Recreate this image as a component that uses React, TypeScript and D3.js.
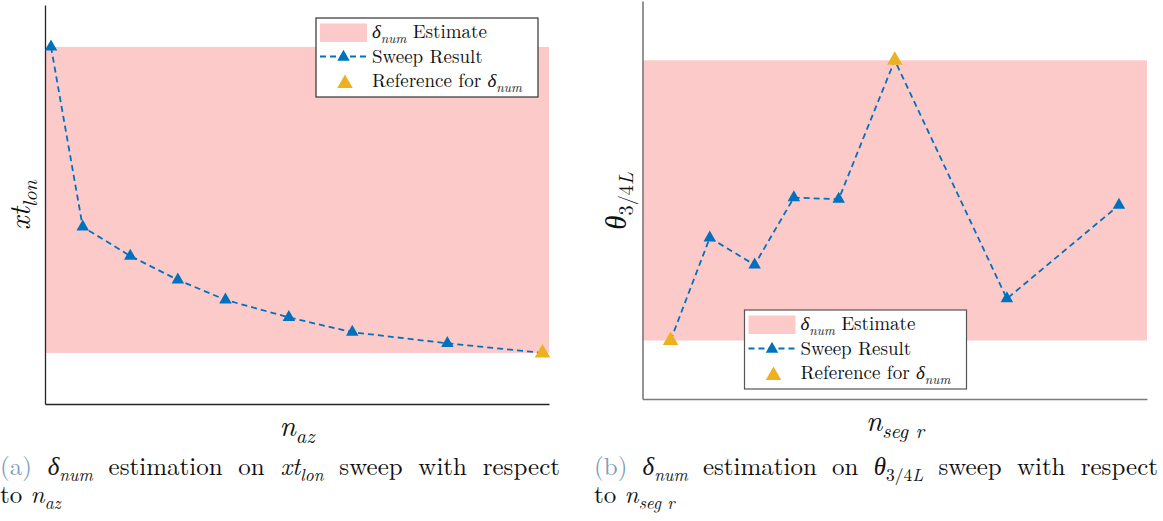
import React, { useEffect, useRef } from 'react';
import * as d3 from 'd3';

// Sweep (a): longitudinal xt against azimuthal resolution
const nAz = [4, 6, 9, 12, 15, 19, 23, 29, 35];
const xtLon = [0.895, 0.444, 0.371, 0.311, 0.261, 0.217, 0.18, 0.152, 0.128];
const xtLonIsReference = [false, false, false, false, false, false, false, false, true];

// Sweep (b): theta at 3/4 L against radial segments
const nSegR = [1, 2.4, 4, 5.4, 7, 9, 13, 17];
const theta34L = [0.147, 0.405, 0.337, 0.506, 0.502, 0.851, 0.252, 0.487];
const thetaIsReference = [true, false, false, false, false, true, false, false];

const BLUE = '#0072BD';
const GOLD = '#EDB120';
const BAND = '#FDCACA';
const SERIF = 'Latin Modern Roman';
const GREEK = "'Liberation Serif'";

type Seg = { t: string; it?: boolean; sub?: boolean; gr?: boolean; color?: string };

const deltaNum: Seg[] = [{ t: 'δ', it: true, gr: true }, { t: 'num', it: true, sub: true }];

const legendRows: Seg[][] = [
  [...deltaNum, { t: ' Estimate' }],
  [{ t: 'Sweep Result' }],
  [{ t: 'Reference for ' }, ...deltaNum],
];

const captionA: Seg[][] = [
  [{ t: '(a)', color: '#7f9dbd' }],
  deltaNum,
  [{ t: 'estimation' }],
  [{ t: 'on' }],
  [{ t: 'xt', it: true }, { t: 'lon', it: true, sub: true }],
  [{ t: 'sweep' }],
  [{ t: 'with' }],
  [{ t: 'respect' }],
];
const captionA2: Seg[] = [{ t: 'to ' }, { t: 'n', it: true }, { t: 'az', it: true, sub: true }];

const captionB: Seg[][] = [
  [{ t: '(b)', color: '#7f9dbd' }],
  deltaNum,
  [{ t: 'estimation' }],
  [{ t: 'on' }],
  [{ t: 'θ', it: true, gr: true }, { t: '3/4', sub: true }, { t: 'L', it: true, sub: true }],
  [{ t: 'sweep' }],
  [{ t: 'with' }],
  [{ t: 'respect' }],
];
const captionB2: Seg[] = [{ t: 'to ' }, { t: 'n', it: true }, { t: 'seg r', it: true, sub: true }];

type Sel = d3.Selection<any, unknown, null, undefined>;

function rich(sel: Sel, segs: Seg[], size: number) {
  let shift = 0;
  segs.forEach((s) => {
    const target = s.sub ? size * 0.25 : 0;
    const ts = sel
      .append('tspan')
      .text(s.t)
      .attr('font-size', s.sub ? size * 0.7 : size)
      .attr('font-style', s.it ? 'italic' : 'normal');
    if (s.gr) ts.style('font-family', GREEK);
    if (target !== shift) {
      ts.attr('dy', target - shift);
      shift = target;
    }
    if (s.color) ts.attr('fill', s.color);
  });
}

function textAt(g: Sel, segs: Seg[], x: number, y: number, size: number, anchor = 'start') {
  const t = g
    .append('text')
    .attr('x', x)
    .attr('y', y)
    .attr('font-family', SERIF)
    .attr('font-size', size)
    .attr('text-anchor', anchor)
    .attr('fill', '#111')
    .style('white-space', 'pre');
  rich(t, segs, size);
  return t;
}

// Lay out words so the line fills [x0, x1], with the slack put between words
function justified(g: Sel, words: Seg[][], x0: number, x1: number, y: number, size: number) {
  const nodes = words.map((w) => textAt(g, w, 0, y, size));
  const widths = nodes.map((n) => (n.node() as SVGTextElement).getComputedTextLength());
  const gap = (x1 - x0 - d3.sum(widths)) / (nodes.length - 1);
  let cx = x0;
  nodes.forEach((n, i) => {
    n.attr('x', cx);
    cx += widths[i] + gap;
  });
}

function triangle(w: number, h: number) {
  return `M0,${(-2 * h) / 3}L${w / 2},${h / 3}L${-w / 2},${h / 3}Z`;
}

type Panel = {
  xs: number[];
  ys: number[];
  isRef: boolean[];
  xDomain: [number, number];
  left: number;
  right: number;
  top: number;
  bottom: number;
  axisColor: string;
  axisWidth: number;
  legendX: number;
  legendY: number;
  legendStroke: string;
  yLabel: Seg[];
  yLabelX: number;
  yLabelY: number;
  xLabel: Seg[];
  xLabelX: number;
  xLabelY: number;
};

function drawLegend(g: Sel, p: Panel) {
  const x0 = p.legendX;
  const y0 = p.legendY;
  g.append('rect')
    .attr('x', x0)
    .attr('y', y0)
    .attr('width', 222)
    .attr('height', 79)
    .attr('fill', '#fff')
    .attr('stroke', p.legendStroke)
    .attr('stroke-width', 1.2);
  g.append('rect').attr('x', x0 + 4).attr('y', y0 + 5.5).attr('width', 47).attr('height', 18.5).attr('fill', BAND);
  g.append('line')
    .attr('x1', x0 + 4)
    .attr('x2', x0 + 51)
    .attr('y1', y0 + 38.5)
    .attr('y2', y0 + 38.5)
    .attr('stroke', BLUE)
    .attr('stroke-width', 1.8)
    .attr('stroke-dasharray', '6,4');
  g.append('path').attr('d', triangle(12.5, 11)).attr('transform', `translate(${x0 + 27.5},${y0 + 39})`).attr('fill', BLUE);
  g.append('path').attr('d', triangle(15.5, 13.5)).attr('transform', `translate(${x0 + 29},${y0 + 65.5})`).attr('fill', GOLD);
  legendRows.forEach((row, i) => textAt(g, row, x0 + 56, y0 + 20 + i * 24.5, 19));
}

function drawPanel(g: Sel, p: Panel) {
  const x = d3.scaleLinear().domain(p.xDomain).range([p.left, p.right]);
  const y = d3.scaleLinear().domain([0, 1]).range([p.bottom, p.top]);
  const [lo, hi] = d3.extent(p.ys) as [number, number];

  // estimate band spans the sweep's range
  g.append('rect')
    .attr('x', p.left)
    .attr('width', p.right - p.left)
    .attr('y', y(hi))
    .attr('height', y(lo) - y(hi))
    .attr('fill', BAND);

  const xAxis = g
    .append('g')
    .attr('transform', `translate(0,${p.bottom})`)
    .call(d3.axisBottom(x).tickValues([]).tickSizeOuter(0));
  const yAxis = g
    .append('g')
    .attr('transform', `translate(${p.left},0)`)
    .call(d3.axisLeft(y).tickValues([]).tickSizeOuter(0));
  [xAxis, yAxis].forEach((a) =>
    a.select('.domain').attr('stroke', p.axisColor).attr('stroke-width', p.axisWidth)
  );

  const pts = p.xs.map((v, i) => [x(v), y(p.ys[i])] as [number, number]);
  g.append('path')
    .attr('d', d3.line()(pts))
    .attr('fill', 'none')
    .attr('stroke', BLUE)
    .attr('stroke-width', 1.8)
    .attr('stroke-dasharray', '6,4');
  g.selectAll(null)
    .data(pts)
    .enter()
    .append('path')
    .attr('d', triangle(12.5, 11))
    .attr('transform', (d) => `translate(${d[0]},${d[1]})`)
    .attr('fill', BLUE);
  g.selectAll(null)
    .data(pts.filter((_, i) => p.isRef[i]))
    .enter()
    .append('path')
    .attr('d', triangle(15.5, 13.5))
    .attr('transform', (d) => `translate(${d[0]},${d[1]})`)
    .attr('fill', GOLD);

  drawLegend(g, p);

  textAt(g, p.yLabel, 0, 0, 29, 'middle').attr(
    'transform',
    `translate(${p.yLabelX},${p.yLabelY}) rotate(-90)`
  );
  textAt(g, p.xLabel, p.xLabelX, p.xLabelY, 29, 'middle');
}

const panelA: Panel = {
  xs: nAz,
  ys: xtLon,
  isRef: xtLonIsReference,
  xDomain: [3.62, 35.41],
  left: 45,
  right: 549,
  top: 5,
  bottom: 404,
  axisColor: '#262626',
  axisWidth: 1.3,
  legendX: 316,
  legendY: 18,
  legendStroke: '#333',
  yLabel: [{ t: 'xt', it: true }, { t: 'lon', it: true, sub: true }],
  yLabelX: 30,
  yLabelY: 205,
  xLabel: [{ t: 'n', it: true }, { t: 'az', it: true, sub: true }],
  xLabelX: 297,
  xLabelY: 436,
};

const panelB: Panel = {
  xs: nSegR,
  ys: theta34L,
  isRef: thetaIsReference,
  xDomain: [0, 18],
  left: 642.5,
  right: 1147,
  top: 1,
  bottom: 399,
  axisColor: '#7a7a7a',
  axisWidth: 1.6,
  legendX: 744.5,
  legendY: 310,
  legendStroke: '#555',
  yLabel: [{ t: 'θ', it: true, gr: true }, { t: '3/4', sub: true }, { t: 'L', it: true, sub: true }],
  yLabelX: 626,
  yLabelY: 201,
  xLabel: [{ t: 'n', it: true }, { t: 'seg r', it: true, sub: true }],
  xLabelX: 895,
  xLabelY: 431,
};

export default function App() {
  const ref = useRef<SVGSVGElement>(null);
  useEffect(() => {
    const svg = d3.select(ref.current);
    svg.selectAll('g').remove();
    const g = svg.append('g') as unknown as Sel;
    drawPanel(g, panelA);
    drawPanel(g, panelB);
    justified(g, captionA, 0, 560, 475, 25);
    textAt(g, captionA2, 0, 503, 25);
    justified(g, captionB, 594, 1158, 475, 25);
    textAt(g, captionB2, 594, 503, 25);
  }, []);
  return (
    <svg
      ref={ref}
      width={1163}
      height={521}
      fontFamily={SERIF}
      style={{ position: 'absolute', left: 0, top: 0, background: '#fff', fontFamily: SERIF }}
    />
  );
}
